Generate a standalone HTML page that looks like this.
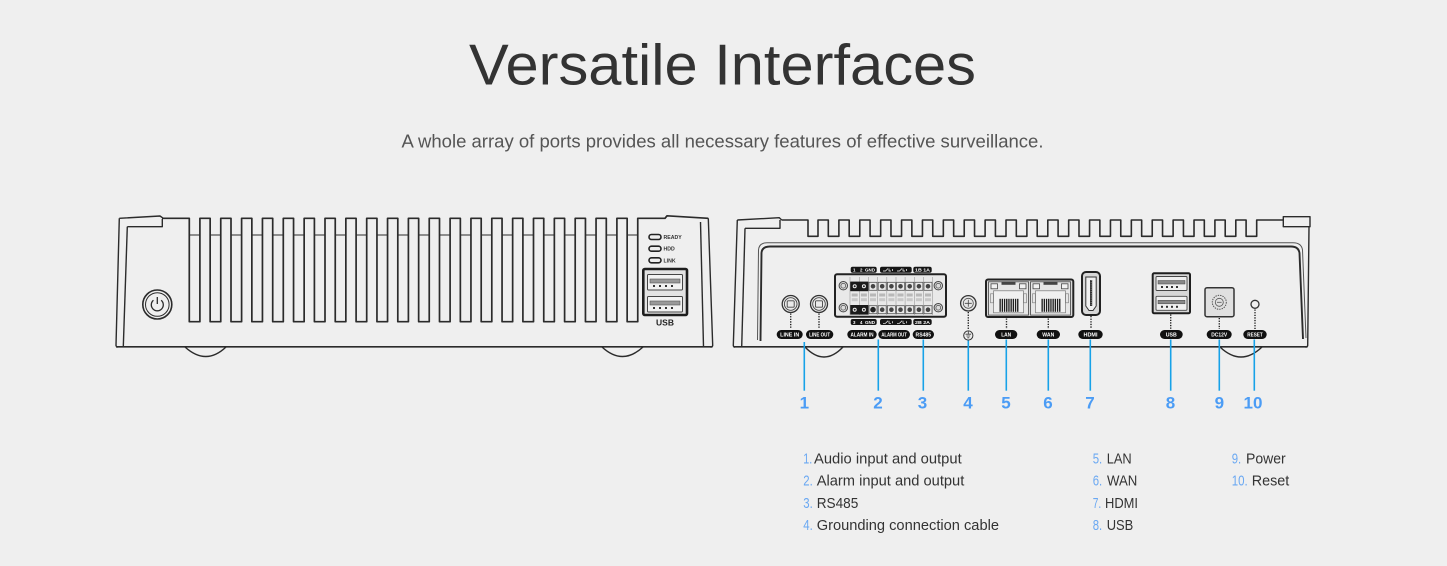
<!DOCTYPE html>
<html>
<head>
<meta charset="utf-8">
<style>
  html,body{margin:0;padding:0;background:#efefef;}
  body{width:1447px;height:566px;overflow:hidden;}
  svg{display:block;}
  text{font-family:"Liberation Sans",sans-serif;}
</style>
</head>
<body>
<svg width="1447" height="566" viewBox="0 0 1447 566" xmlns="http://www.w3.org/2000/svg" xmlns:xlink="http://www.w3.org/1999/xlink">
  <defs>
    <pattern id="stripes" width="2.2" height="10" patternUnits="userSpaceOnUse">
      <rect x="0" y="0" width="1.3" height="10" fill="#1a1a1a"/>
    </pattern>
    <g id="tcol">
      <rect x="-4" y="282.3" width="8" height="8" fill="none" stroke="#555" stroke-width=".8"/>
      <circle cx="0" cy="286.3" r="2.3" fill="#444"/>
      <rect x="-3" y="293.5" width="6" height="3" fill="#b8b8b8"/>
      <rect x="-3" y="298.2" width="6" height="3" fill="#c8c8c8"/>
      <rect x="-4" y="305.7" width="8" height="8" fill="none" stroke="#555" stroke-width=".8"/>
      <circle cx="0" cy="309.7" r="2.3" fill="#444"/>
      <line x1="4.6" y1="277" x2="4.6" y2="315" stroke="#9a9a9a" stroke-width=".6"/>
    </g>
    <g id="rjport">
      <rect x="0" y="0" width="40" height="33.3" fill="#e6e6e6" stroke="#555" stroke-width=".9"/>
      <rect x="2.5" y="2" width="6.5" height="5" fill="#f2f2f2" stroke="#444" stroke-width=".8"/>
      <rect x="31" y="2" width="6.5" height="5" fill="#f2f2f2" stroke="#444" stroke-width=".8"/>
      <rect x="13" y="0" width="14" height="3" fill="#444"/>
      <rect x="5" y="9" width="30" height="22" fill="#f0f0f0" stroke="#777" stroke-width=".7"/>
      <rect x="11" y="17" width="19" height="13" fill="url(#stripes)"/>
      <rect x="2" y="12" width="3" height="9" fill="none" stroke="#777" stroke-width=".6"/>
      <rect x="35" y="12" width="3" height="9" fill="none" stroke="#777" stroke-width=".6"/>
    </g>
  </defs>

  <!-- Title -->
  <text x="469" y="84.3" font-size="57.5" fill="#333" textLength="507" lengthAdjust="spacingAndGlyphs">Versatile Interfaces</text>
  <text x="401.5" y="147.3" font-size="18" fill="#555" textLength="642" lengthAdjust="spacingAndGlyphs">A whole array of ports provides all necessary features of effective surveillance.</text>

  <!-- ================= FRONT DEVICE ================= -->
  <g fill="none" stroke="#2b2b2b" stroke-width="1.4" stroke-linejoin="round">
    <!-- left cap -->
    <path d="M119.3,218.3 L116,345.5 Q116.3,347 118,347"/>
    <path d="M127.3,226.7 L123.3,346.7"/>
    <path d="M119.3,218.3 L160,216 L163.3,218.3"/>
    <path d="M127.3,226.7 H162.3 V219"/>
    <!-- top with slots -->
    <path stroke-width="1.7" d="M162,218.3 H189.3 v103.4h10.6v-103.4h10.25v103.4h10.6v-103.4h10.25v103.4h10.6v-103.4h10.25v103.4h10.6v-103.4h10.25v103.4h10.6v-103.4h10.25v103.4h10.6v-103.4h10.25v103.4h10.6v-103.4h10.25v103.4h10.6v-103.4h10.25v103.4h10.6v-103.4h10.25v103.4h10.6v-103.4h10.25v103.4h10.6v-103.4h10.25v103.4h10.6v-103.4h10.25v103.4h10.6v-103.4h10.25v103.4h10.6v-103.4h10.25v103.4h10.6v-103.4h10.25v103.4h10.6v-103.4h10.25v103.4h10.6v-103.4h10.25v103.4h10.6v-103.4h10.25v103.4h10.6v-103.4h10.25v103.4h10.6v-103.4h10.25v103.4h10.6v-103.4h10.25v103.4h10.6v-103.4 H665 L667,215.8 L708.3,218.3"/>
    <path stroke-width="1" stroke-dasharray="10.6 10.25" d="M189.3,235 H637.75"/>
    <!-- right cap -->
    <path d="M708.3,218.3 L712.7,345.5 Q712.5,347 710.5,347"/>
    <path d="M700.5,222 L703.5,346.7"/>
    <!-- bottom -->
    <path stroke-width="1.7" d="M116,346.8 H712.5"/>
    <!-- feet -->
    <path d="M185,347 Q206,366 226,347"/>
    <path d="M602,347 Q622.5,366 643,347"/>
    <!-- power button -->
    <circle cx="157.3" cy="304.5" r="14.5" stroke-width="1.6"/>
    <circle cx="157.3" cy="304.5" r="11.8" stroke-width="1"/>
    <path stroke-width="1.3" d="M153.44,300.2 A6,6 0 1 0 161.16,300.2"/>
    <path stroke-width="1.3" d="M157.3,297 V304"/>
  </g>
  <!-- front LEDs -->
  <g stroke="#222" stroke-width="1.6" fill="#eee">
    <rect x="649" y="234.5" width="12" height="5" rx="2.5"/>
    <rect x="649" y="246.2" width="12" height="5" rx="2.5"/>
    <rect x="649" y="257.8" width="12" height="5" rx="2.5"/>
  </g>
  <g font-size="5.2" fill="#333" font-weight="bold">
    <text x="663.5" y="239">READY</text>
    <text x="663.5" y="250.7">HDD</text>
    <text x="663.5" y="262.3">LINK</text>
  </g>
  <!-- front USB -->
  <rect x="643.3" y="269" width="43.7" height="46" rx="1.5" fill="#e3e3e3" stroke="#1e1e1e" stroke-width="2.6"/>
  <g fill="#f2f2f2" stroke="#444" stroke-width="1">
    <rect x="647.5" y="274.5" width="35" height="15.5" rx="1"/>
    <rect x="647.5" y="296.5" width="35" height="15.5" rx="1"/>
  </g>
  <g fill="#999" stroke="#555" stroke-width=".6">
    <rect x="650" y="279" width="30" height="4"/>
    <rect x="650" y="301" width="30" height="4"/>
  </g>
  <g fill="#333">
    <rect x="653" y="285" width="2" height="2"/><rect x="659" y="285" width="2" height="2"/><rect x="665" y="285" width="2" height="2"/><rect x="671" y="285" width="2" height="2"/>
    <rect x="653" y="307" width="2" height="2"/><rect x="659" y="307" width="2" height="2"/><rect x="665" y="307" width="2" height="2"/><rect x="671" y="307" width="2" height="2"/>
  </g>
  <text x="665" y="325.5" font-size="8.5" font-weight="bold" fill="#222" text-anchor="middle">USB</text>

  <!-- ================= REAR DEVICE ================= -->
  <g fill="none" stroke="#2b2b2b" stroke-width="1.4" stroke-linejoin="round">
    <!-- left cap -->
    <path d="M737.3,220 L733.3,345.5 Q733.5,347 735,347"/>
    <path d="M745,228.3 L741.7,346.7"/>
    <path d="M737.3,220 L779.3,217.7 L781.7,220"/>
    <path d="M745,228.3 H780 V220"/>
    <!-- top fins -->
    <path stroke-width="1.6" d="M781.7,220 H808 V236.3 H818 V220 h10.3v16.3h10.59v-16.3h10.3v16.3h10.59v-16.3h10.3v16.3h10.59v-16.3h10.3v16.3h10.59v-16.3h10.3v16.3h10.59v-16.3h10.3v16.3h10.59v-16.3h10.3v16.3h10.59v-16.3h10.3v16.3h10.59v-16.3h10.3v16.3h10.59v-16.3h10.3v16.3h10.59v-16.3h10.3v16.3h10.59v-16.3h10.3v16.3h10.59v-16.3h10.3v16.3h10.59v-16.3h10.3v16.3h10.59v-16.3h10.3v16.3h10.59v-16.3h10.3v16.3h10.59v-16.3h10.3v16.3h10.59v-16.3h10.3v16.3h10.59v-16.3h10.3v16.3h10.59v-16.3h10.3v16.3h10.59v-16.3h10.3v16.3h10.59v-16.3 H1283.3"/>
    <!-- right tab -->
    <path d="M1283.3,220 V216.7 H1310 V226.7 H1283.3 Z"/>
    <path d="M1309,226.7 L1307.7,345.5 Q1307.5,347 1305.5,347"/>
    <!-- inner panel -->
    <path stroke-width="1" stroke="#555" d="M757.5,340 L758.5,250 Q759,242.8 767,242.8 L1293,242.8 Q1301.5,242.8 1302.5,250 L1306,338"/>
    <path stroke-width="1.9" d="M760.5,341 L761.5,253 Q762,246.5 770,246.5 L1291,246.5 Q1298.5,246.5 1299.5,253 L1303,339"/>
    <!-- bottom -->
    <path stroke-width="1.7" d="M733.5,346.8 H1307.5"/>
    <!-- feet -->
    <path d="M805,347 Q824,367 843,347"/>
    <path d="M1220,347 Q1241,367 1262,347"/>
  </g>

  <!-- LINE IN / LINE OUT jacks -->
  <g fill="#eaeaea" stroke="#333" stroke-width="1.3">
    <circle cx="790.7" cy="304" r="8.5"/>
    <circle cx="819" cy="304" r="8.5"/>
  </g>
  <g fill="none" stroke="#444" stroke-width=".9">
    <circle cx="790.7" cy="304" r="6.3"/>
    <circle cx="819" cy="304" r="6.3"/>
    <rect x="787.2" y="300.8" width="7" height="6.4" rx="1"/>
    <rect x="815.5" y="300.8" width="7" height="6.4" rx="1"/>
  </g>

  <!-- terminal block -->
  <rect x="835" y="274.3" width="111" height="42.4" rx="2" fill="#e9e9e9" stroke="#222" stroke-width="2"/>
  <g fill="#dcdcdc" stroke="#444" stroke-width="1">
    <circle cx="843.3" cy="285.7" r="4.2"/>
    <circle cx="843.3" cy="307.7" r="4.2"/>
    <circle cx="938.3" cy="285.7" r="4.2"/>
    <circle cx="938.3" cy="307.7" r="4.2"/>
  </g>
  <g fill="none" stroke="#555" stroke-width=".8">
    <circle cx="843.3" cy="285.7" r="2.4"/>
    <circle cx="843.3" cy="307.7" r="2.4"/>
    <circle cx="938.3" cy="285.7" r="2.4"/>
    <circle cx="938.3" cy="307.7" r="2.4"/>
  </g>
  <line x1="850" y1="277" x2="850" y2="315" stroke="#999" stroke-width=".6"/>
  <use href="#tcol" xlink:href="#tcol" x="854.7"/>
  <use href="#tcol" xlink:href="#tcol" x="863.9"/>
  <use href="#tcol" xlink:href="#tcol" x="873.0"/>
  <use href="#tcol" xlink:href="#tcol" x="882.2"/>
  <use href="#tcol" xlink:href="#tcol" x="891.4"/>
  <use href="#tcol" xlink:href="#tcol" x="900.5"/>
  <use href="#tcol" xlink:href="#tcol" x="909.7"/>
  <use href="#tcol" xlink:href="#tcol" x="918.9"/>
  <use href="#tcol" xlink:href="#tcol" x="928.0"/>
  <rect x="850.3" y="281.6" width="18" height="9.6" fill="#1a1a1a"/>
  <rect x="850.3" y="305" width="18" height="9.6" fill="#1a1a1a"/>
  <g fill="#eee">
    <circle cx="854.7" cy="286.3" r="2"/><circle cx="863.9" cy="286.3" r="2"/>
    <circle cx="854.7" cy="309.7" r="2"/><circle cx="863.9" cy="309.7" r="2"/>
  </g>
  <g fill="#222">
    <circle cx="854.7" cy="286.3" r="1"/><circle cx="863.9" cy="286.3" r="1"/>
    <circle cx="854.7" cy="309.7" r="1"/><circle cx="863.9" cy="309.7" r="1"/>
    <circle cx="873" cy="309.7" r="2.8"/>
  </g>

  <!-- terminal labels -->
  <g fill="#151515">
    <rect x="850.7" y="266.7" width="26" height="6" rx="2"/>
    <rect x="880" y="266.7" width="31.7" height="6" rx="2"/>
    <rect x="913.3" y="266.7" width="18.4" height="6" rx="2"/>
    <rect x="850.7" y="319" width="26" height="6" rx="2"/>
    <rect x="880" y="319" width="31.7" height="6" rx="2"/>
    <rect x="913.3" y="319" width="18.4" height="6" rx="2"/>
  </g>
  <g font-size="4.4" font-weight="bold" fill="#fff">
    <text x="853" y="271.6">1</text><text x="860" y="271.6">2</text><text x="865" y="271.6" textLength="10" lengthAdjust="spacingAndGlyphs">GND</text>
    <text x="915" y="271.6" textLength="15" lengthAdjust="spacingAndGlyphs">1B 1A</text>
    <text x="853" y="323.9">3</text><text x="860" y="323.9">4</text><text x="865" y="323.9" textLength="10" lengthAdjust="spacingAndGlyphs">GND</text>
    <text x="915" y="323.9" textLength="15" lengthAdjust="spacingAndGlyphs">2B 2A</text>
  </g>
  <g fill="none" stroke="#fff" stroke-width=".7">
    <path d="M883,271 h2.5 l2.5,-2.5 M889,268.5 v2.5 h2 M892.5,269 v2"/>
    <path d="M897,271 h2.5 l2.5,-2.5 M903,268.5 v2.5 h2 M906.5,269 v2"/>
    <path d="M883,323.3 h2.5 l2.5,-2.5 M889,320.8 v2.5 h2 M892.5,321.3 v2"/>
    <path d="M897,323.3 h2.5 l2.5,-2.5 M903,320.8 v2.5 h2 M906.5,321.3 v2"/>
  </g>

  <!-- ground screw -->
  <circle cx="968.3" cy="303.3" r="7.7" fill="#e8e8e8" stroke="#333" stroke-width="1.3"/>
  <circle cx="968.3" cy="303.3" r="5" fill="none" stroke="#555" stroke-width=".8"/>
  <path d="M964.8,303.3 H971.8 M968.3,299.8 V306.8" stroke="#444" stroke-width=".8"/>
  <circle cx="968.3" cy="335.5" r="4.6" fill="none" stroke="#333" stroke-width="1"/>
  <path d="M968.3,331.5 V334 M965.5,334.2 H971.1 M966.4,336 H970.2 M967.3,337.8 H969.3" stroke="#333" stroke-width=".8"/>

  <!-- RJ45 block -->
  <rect x="986" y="279.5" width="87.3" height="37.5" rx="2" fill="#d8d8d8" stroke="#222" stroke-width="2"/>
  <use href="#rjport" xlink:href="#rjport" x="988.5" y="281.8"/>
  <use href="#rjport" xlink:href="#rjport" x="1030.5" y="281.8"/>

  <!-- HDMI -->
  <rect x="1082" y="272" width="18" height="43" rx="4" fill="#d8d8d8" stroke="#222" stroke-width="2"/>
  <path d="M1085.8,277 H1096.2 V306 L1093,310.5 H1089 L1085.8,306 Z" fill="#f0f0f0" stroke="#333" stroke-width="1"/>
  <rect x="1090" y="280" width="2.2" height="26" fill="#333"/>
  <path d="M1091.1,280 V306" stroke="#ddd" stroke-width=".5" stroke-dasharray="1 1.2"/>

  <!-- rear USB -->
  <rect x="1152.7" y="273.3" width="37.3" height="40" rx="1.5" fill="#d6d6d6" stroke="#1e1e1e" stroke-width="2"/>
  <g fill="#efefef" stroke="#444" stroke-width=".9">
    <rect x="1156" y="276.5" width="31" height="14" rx="1"/>
    <rect x="1156" y="296.3" width="31" height="14" rx="1"/>
  </g>
  <g fill="#888" stroke="#444" stroke-width=".5">
    <rect x="1158" y="280.5" width="27" height="3.5"/>
    <rect x="1158" y="300.3" width="27" height="3.5"/>
  </g>
  <g fill="#333">
    <rect x="1161" y="286" width="2" height="2"/><rect x="1166" y="286" width="2" height="2"/><rect x="1171" y="286" width="2" height="2"/><rect x="1176" y="286" width="2" height="2"/>
    <rect x="1161" y="305.8" width="2" height="2"/><rect x="1166" y="305.8" width="2" height="2"/><rect x="1171" y="305.8" width="2" height="2"/><rect x="1176" y="305.8" width="2" height="2"/>
  </g>

  <!-- DC12V -->
  <rect x="1205" y="287.7" width="29" height="29" rx="2" fill="#e0e0e0" stroke="#333" stroke-width="1.5"/>
  <circle cx="1219.3" cy="302.3" r="7" fill="none" stroke="#555" stroke-width="1" stroke-dasharray="1.4 1"/>
  <circle cx="1219.3" cy="302.3" r="4" fill="none" stroke="#555" stroke-width=".8"/>
  <path d="M1217,302.3 H1221.6" stroke="#555" stroke-width=".8"/>

  <!-- RESET -->
  <circle cx="1255" cy="304.3" r="4" fill="none" stroke="#333" stroke-width="1.3"/>

  <!-- dotted connectors -->
  <g stroke="#222" stroke-width="1.4" stroke-dasharray="1.3 1.3">
    <path d="M790.7,313.5 V329"/>
    <path d="M819,313.5 V329"/>
    <path d="M968.3,312 V330"/>
    <path d="M1006.5,318.5 V329"/>
    <path d="M1048.3,318.5 V329"/>
    <path d="M1091,316 V329"/>
    <path d="M1170.7,314.5 V329"/>
    <path d="M1219.3,318 V329"/>
    <path d="M1255,309.5 V329"/>
  </g>

  <!-- rear pills -->
  <g fill="#111">
    <rect x="776.7" y="330" width="26" height="9" rx="4.5"/>
    <rect x="806" y="330" width="27.3" height="9" rx="4.5"/>
    <rect x="847.3" y="330" width="29.4" height="9" rx="4.5"/>
    <rect x="878.3" y="330" width="31.7" height="9" rx="4.5"/>
    <rect x="912.7" y="330" width="21.3" height="9" rx="4.5"/>
    <rect x="995" y="330" width="22.3" height="9" rx="4.5"/>
    <rect x="1036.7" y="330" width="23.3" height="9" rx="4.5"/>
    <rect x="1078.3" y="330" width="24.4" height="9" rx="4.5"/>
    <rect x="1160" y="330" width="22.7" height="9" rx="4.5"/>
    <rect x="1206.7" y="330" width="25" height="9" rx="4.5"/>
    <rect x="1243.3" y="330" width="23.4" height="9" rx="4.5"/>
  </g>
  <g font-size="5" font-weight="bold" fill="#fff" text-anchor="middle">
    <text x="789.7" y="336.3" textLength="19" lengthAdjust="spacingAndGlyphs">LINE IN</text>
    <text x="819.6" y="336.3" textLength="21" lengthAdjust="spacingAndGlyphs">LINE OUT</text>
    <text x="862" y="336.3" textLength="23" lengthAdjust="spacingAndGlyphs">ALARM IN</text>
    <text x="894.1" y="336.3" textLength="25.5" lengthAdjust="spacingAndGlyphs">ALARM OUT</text>
    <text x="923.3" y="336.3" textLength="15.5" lengthAdjust="spacingAndGlyphs">RS485</text>
    <text x="1006.2" y="336.3" textLength="10" lengthAdjust="spacingAndGlyphs">LAN</text>
    <text x="1048.3" y="336.3" textLength="12" lengthAdjust="spacingAndGlyphs">WAN</text>
    <text x="1090.5" y="336.3" textLength="14" lengthAdjust="spacingAndGlyphs">HDMI</text>
    <text x="1171.3" y="336.3" textLength="11" lengthAdjust="spacingAndGlyphs">USB</text>
    <text x="1219.2" y="336.3" textLength="16" lengthAdjust="spacingAndGlyphs">DC12V</text>
    <text x="1255" y="336.3" textLength="15.5" lengthAdjust="spacingAndGlyphs">RESET</text>
  </g>

  <!-- blue leader lines -->
  <g stroke="#17a2e8" stroke-width="1.6">
    <path d="M804.3,342 V390.7"/>
    <path d="M878.3,339.5 V390.7"/>
    <path d="M923.3,339.5 V390.7"/>
    <path d="M968.3,340.5 V390.7"/>
    <path d="M1006.3,339.5 V390.7"/>
    <path d="M1048.3,339.5 V390.7"/>
    <path d="M1090.3,339.5 V390.7"/>
    <path d="M1170.7,339.5 V390.7"/>
    <path d="M1219.3,339.5 V390.7"/>
    <path d="M1254.3,339.5 V390.7"/>
  </g>
  <g font-size="17" font-weight="bold" fill="#4b9cf5" text-anchor="middle">
    <text x="804.3" y="408.3">1</text>
    <text x="878" y="408.3">2</text>
    <text x="922.5" y="408.3">3</text>
    <text x="968" y="408.3">4</text>
    <text x="1006" y="408.3">5</text>
    <text x="1048" y="408.3">6</text>
    <text x="1090" y="408.3">7</text>
    <text x="1170.5" y="408.3">8</text>
    <text x="1219.3" y="408.3">9</text>
    <text x="1253" y="408.3">10</text>
  </g>

  <!-- legend -->
  <g font-size="15" fill="#6aa8f2">
    <text x="803.3" y="463.3" textLength="9" lengthAdjust="spacingAndGlyphs">1.</text>
    <text x="803.3" y="485.6" textLength="9.5" lengthAdjust="spacingAndGlyphs">2.</text>
    <text x="803.3" y="507.9" textLength="9.5" lengthAdjust="spacingAndGlyphs">3.</text>
    <text x="803.3" y="530.2" textLength="9.5" lengthAdjust="spacingAndGlyphs">4.</text>
    <text x="1092.7" y="463.3" textLength="9.5" lengthAdjust="spacingAndGlyphs">5.</text>
    <text x="1092.7" y="485.6" textLength="9.5" lengthAdjust="spacingAndGlyphs">6.</text>
    <text x="1092.7" y="507.9" textLength="8.5" lengthAdjust="spacingAndGlyphs">7.</text>
    <text x="1092.7" y="530.2" textLength="9.5" lengthAdjust="spacingAndGlyphs">8.</text>
    <text x="1231.7" y="463.3" textLength="9.5" lengthAdjust="spacingAndGlyphs">9.</text>
    <text x="1231.7" y="485.6" textLength="16" lengthAdjust="spacingAndGlyphs">10.</text>
  </g>
  <g font-size="15" fill="#333">
    <text x="814" y="463.3" textLength="147.7" lengthAdjust="spacingAndGlyphs">Audio input and output</text>
    <text x="816.7" y="485.6" textLength="147.6" lengthAdjust="spacingAndGlyphs">Alarm input and output</text>
    <text x="816.7" y="507.9" textLength="41.6" lengthAdjust="spacingAndGlyphs">RS485</text>
    <text x="816.7" y="530.2" textLength="182.3" lengthAdjust="spacingAndGlyphs">Grounding connection cable</text>
    <text x="1106.7" y="463.3" textLength="25" lengthAdjust="spacingAndGlyphs">LAN</text>
    <text x="1107" y="485.6" textLength="30.3" lengthAdjust="spacingAndGlyphs">WAN</text>
    <text x="1105" y="507.9" textLength="33" lengthAdjust="spacingAndGlyphs">HDMI</text>
    <text x="1106.7" y="530.2" textLength="26.6" lengthAdjust="spacingAndGlyphs">USB</text>
    <text x="1246" y="463.3" textLength="39.7" lengthAdjust="spacingAndGlyphs">Power</text>
    <text x="1251.7" y="485.6" textLength="37.6" lengthAdjust="spacingAndGlyphs">Reset</text>
  </g>
</svg>
</body>
</html>
